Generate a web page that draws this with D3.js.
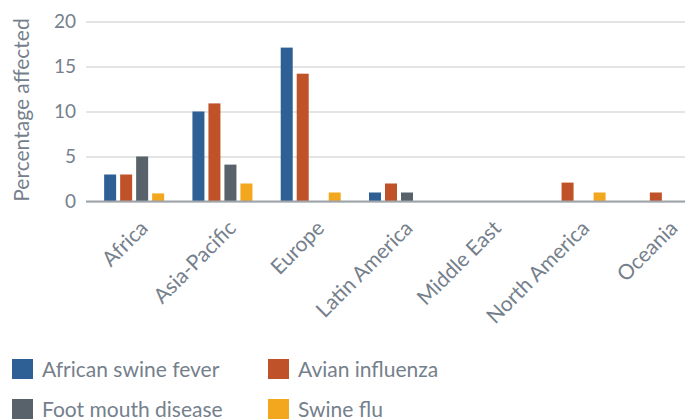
<!DOCTYPE html>
<html><head><meta charset="utf-8">
<script src="https://cdn.jsdelivr.net/npm/d3@7"></script>
<style>body{margin:0;background:#fff}svg{display:block}</style>
</head><body>
<script>
const categories = ["Africa","Asia-Pacific","Europe","Latin America","Middle East","North America","Oceania"];
const seriesNames = ["African swine fever","Avian influenza","Foot mouth disease","Swine flu"];
const africanSwineFever = [3, 10, 17.1, 1, 0, 0, 0];
const avianInfluenza   = [3, 10.9, 14.2, 2, 0, 2.1, 1];
const footMouthDisease = [5, 4.1, 0, 1, 0, 0, 0];
const swineFlu         = [0.9, 2, 1, 0, 0, 1, 0];
const yTicks = [0, 5, 10, 15, 20];
const colors = ["#2e5f95", "#c0522a", "#57626b", "#f2a71e"];

const series = [africanSwineFever, avianInfluenza, footMouthDisease, swineFlu];
const W = 687, H = 419;
const font = "Lato, 'Open Sans', sans-serif";
const textColor = "#75808c";

const svg = d3.select("body").append("svg").attr("width", W).attr("height", H);

const x = d3.scaleBand().domain(categories).range([90, 708]).paddingInner(0).paddingOuter(0);
const sub = d3.scaleBand().domain(d3.range(4)).range([x.bandwidth()/2 - 32, x.bandwidth()/2 + 32]).paddingInner(0.25).paddingOuter(0.125);
const y = d3.scaleLinear().domain([0, 20]).range([201.5, 21.5]);

// gridlines
const yAxis = d3.axisLeft(y).tickValues(yTicks).tickSize(-(685 - 86)).tickPadding(10);
const gy = svg.append("g").attr("transform", "translate(86,0)").call(yAxis);
gy.select(".domain").remove();
gy.selectAll(".tick line").attr("stroke", "#e4e4e4").attr("stroke-width", 2);
gy.selectAll(".tick text").attr("fill", textColor).style("font-family", font).style("font-size", "19px").attr("x", -10);

// bars
categories.forEach((c, ci) => {
  series.forEach((s, si) => {
    const v = s[ci];
    if (v <= 0) return;
    svg.append("rect")
      .attr("x", x(c) + sub(si))
      .attr("y", y(v))
      .attr("width", sub.bandwidth())
      .attr("height", y(0) - y(v))
      .attr("fill", colors[si]);
  });
});

// zero line
svg.append("line").attr("x1", 86).attr("x2", 685).attr("y1", y(0)).attr("y2", y(0))
  .attr("stroke", "#9ea4aa").attr("stroke-width", 2);

// x labels
const xAxis = d3.axisBottom(x).tickSize(0).tickPadding(0);
const gx = svg.append("g").attr("transform", "translate(0," + y(0) + ")").call(xAxis);
gx.select(".domain").remove();
gx.selectAll(".tick text")
  .attr("fill", textColor).style("font-family", font).style("font-size", "21px")
  .attr("text-anchor", "end")
  .attr("dy", null)
  .attr("transform", "translate(15,28) rotate(-45)")
  .attr("y", 0);

// y title
svg.append("text")
  .attr("transform", "translate(29,110) rotate(-90)")
  .attr("text-anchor", "middle")
  .attr("fill", textColor).style("font-family", font).style("font-size", "21px")
  .text("Percentage affected");

// legend
const legendPos = [[12, 359], [268, 359], [12, 399], [268, 399]];
seriesNames.forEach((n, i) => {
  const [lx, ly] = legendPos[i];
  svg.append("rect").attr("x", lx).attr("y", ly).attr("width", 21).attr("height", 20).attr("fill", colors[i]);
  svg.append("text").attr("x", lx + 30).attr("y", ly + 18)
    .attr("fill", textColor).style("font-family", font).style("font-size", "21px").text(n);
});
</script>
</body></html>
